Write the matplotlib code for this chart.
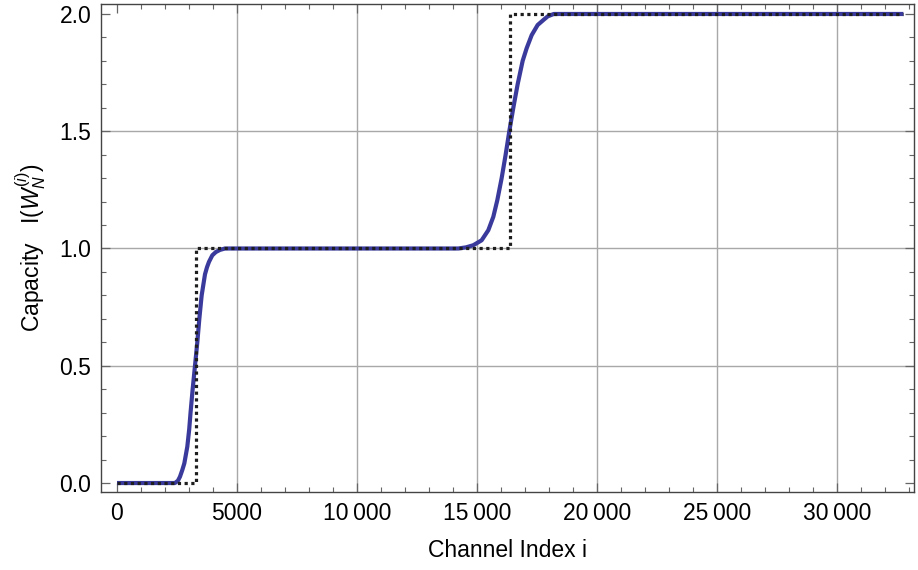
#!/usr/bin/env python3
"""Sorted channel capacities I(W_N^(i)) vs. ideal step function."""

import matplotlib
matplotlib.use("Agg")
import matplotlib.pyplot as plt
from matplotlib.ticker import MultipleLocator, FuncFormatter

# blue curve: sorted capacities
cap_index = [0, 2417, 2540, 2625, 2720, 2806, 2930, 3010, 3065, 3153, 3250,
             3347, 3431, 3528, 3667, 3750, 3833, 3972, 4120, 4290, 4500,
             14222, 14550, 14847, 15194, 15472, 15680, 15847, 16028, 16194,
             16347, 16514, 16694, 16903, 17070, 17280, 17528, 17764, 17950,
             18200, 32768]
cap_value = [0.0, 0.0, 0.01, 0.027, 0.055, 0.084, 0.155, 0.23, 0.3, 0.4, 0.5,
             0.6, 0.7, 0.8, 0.89, 0.92, 0.943, 0.971, 0.985, 0.994, 1.0,
             1.0, 1.005, 1.014, 1.035, 1.078, 1.135, 1.206, 1.3, 1.4,
             1.5, 1.6, 1.7, 1.8, 1.854, 1.91, 1.953, 1.974, 1.99,
             2.0, 2.0]

# dotted line: ideal (limit) step function
step_index = [0, 3277, 3277, 16384, 16384, 32768]
step_value = [0, 0, 1, 1, 2, 2]

x_ticks = [0, 5000, 10000, 15000, 20000, 25000, 30000]
y_ticks = [0.0, 0.5, 1.0, 1.5, 2.0]

plt.rcParams["font.family"] = ["Liberation Sans", "DejaVu Sans"]
plt.rcParams["mathtext.fontset"] = "custom"
plt.rcParams["mathtext.rm"] = "Liberation Sans"
plt.rcParams["mathtext.it"] = "Liberation Sans:italic"

fig = plt.figure(figsize=(9.18, 5.70), dpi=100)
ax = fig.add_axes([0.110, 0.1368, 0.8856, 0.8562])

ax.plot(cap_index, cap_value, color="#3a3a9c", lw=3.0,
        solid_capstyle="butt", solid_joinstyle="round", zorder=3)
ax.plot(step_index, step_value, color="#1e1e1e", lw=2.3,
        linestyle=(0, (1.0, 1.1)), dash_capstyle="butt", zorder=4)

ax.set_xlim(-667, 33208)
ax.set_ylim(-0.0384, 2.0426)

ax.set_xticks(x_ticks)
ax.set_yticks(y_ticks)
ax.xaxis.set_minor_locator(MultipleLocator(1000))
ax.yaxis.set_minor_locator(MultipleLocator(0.1))
ax.xaxis.set_major_formatter(FuncFormatter(
    lambda v, p: f"{int(v):,}".replace(",", "\u2009") if v >= 10000 else f"{int(v)}"))
ax.yaxis.set_major_formatter(FuncFormatter(lambda v, p: f"{v:.1f}"))

for v in x_ticks[1:]:
    ax.axvline(v, color="#a8a8a8", lw=1.0, zorder=1)
for v in [0.5, 1.0, 1.5]:
    ax.axhline(v, color="#a8a8a8", lw=1.0, zorder=1)

ax.tick_params(which="both", direction="in", top=True, right=True,
               color="#666666", labelsize=16.5, labelcolor="black")
ax.tick_params(which="major", length=6.5, width=0.9, pad=7)
ax.tick_params(which="minor", length=3.6, width=0.8)
for s in ax.spines.values():
    s.set_color("#444444")
    s.set_linewidth(1.0)

ax.set_xlabel("Channel Index i", fontsize=16.5, labelpad=10)
ax.set_ylabel(r"Capacity   $\mathrm{I}(W_N^{(i)})$", fontsize=16.5, labelpad=8)

fig.savefig("out.png", dpi=100)
